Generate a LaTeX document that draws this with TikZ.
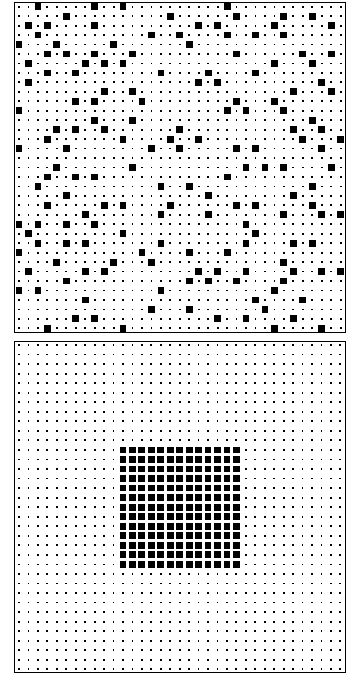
\documentclass[tikz,border=0pt]{standalone}
\usetikzlibrary{calc}
\begin{document}
\begin{tikzpicture}[x=1pt, y=1pt,
    frame/.style={draw, line width=0.8pt},
    dot/.style={fill=black},
    cell/.style={fill=black}]
  \useasboundingbox (0,0) rectangle (354,674);
  % upper pattern
  \draw[frame] (14,341.3) rectangle (345,671.7);
  \foreach \i in {0,...,34}
    \foreach \j in {0,...,34}
      \fill[dot] ({19+9.46*\i-0.9},{667.3-9.46*\j-0.9}) rectangle ++(1.8,1.8);
  \foreach \j/\row in {0/{2,8,11,22}, 1/{5,16,23,28,31}, 2/{1,3,8,19,21,27,33},
      3/{2,14,17,22,25,28}, 4/{0,4,10,18}, 5/{3,5,8,12,23,30,33},
      6/{1,7,9,11,27,31}, 7/{3,6,15,20,25}, 8/{1,19,21,32}, 9/{9,12,29,33},
      10/{6,8,13,23,27}, 11/{0,22,24,28}, 12/{8,12,31}, 13/{4,6,9,17,29,32},
      14/{3,11,16,19,30,34}, 15/{0,5,14,17,23,25,32}, 17/{4,12,24,26,28,33},
      18/{3,6,8,22}, 19/{2,15,18,31}, 20/{5,20,29}, 21/{3,9,11,16,23,25,31},
      22/{7,15,20,28,32,34}, 23/{0,2,5,8,24}, 24/{1,11,25},
      25/{2,5,7,15,24,29,31}, 26/{0,13,18,22}, 27/{4,10,14,28},
      28/{1,7,9,19,21,24,29,32,34}, 29/{5,18,20,23,28}, 30/{0,2,15,27},
      31/{7,25,30}, 32/{14,18,26}, 33/{6,8,21,24,29}, 34/{3,11,27,32}}
    \foreach \i in \row
      \fill[cell] ({19+9.46*\i-3.4},{667.3-9.46*\j-3.4}) rectangle ++(6.8,6.8);
  % lower pattern
  \draw[frame] (14,1.7) rectangle (345.3,332.3);
  \foreach \i in {0,...,34}
    \foreach \j in {0,...,34}
      \fill[dot] ({19+9.45*\i-0.9},{329-9.54*\j-0.9}) rectangle ++(1.8,1.8);
  \foreach \i in {11,...,23}
    \foreach \j in {11,...,23}
      \fill[cell] ({19+9.45*\i-3.4},{329-9.54*\j-3.4}) rectangle ++(6.8,6.8);
\end{tikzpicture}
\end{document}
